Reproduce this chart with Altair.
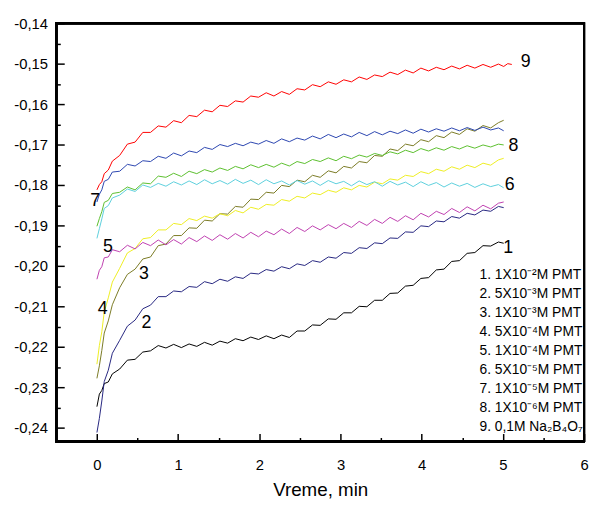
import altair as alt
import pandas as pd

# time grid (min)
T = [0, 0.03, 0.06, 0.09, 0.14, 0.19, 0.28, 0.375, 0.47, 0.565,
     0.66, 0.755, 0.85, 0.945, 1.04, 1.135, 1.23, 1.325, 1.42, 1.515,
     1.61, 1.705, 1.8, 1.895, 1.99, 2.085, 2.18, 2.275, 2.37, 2.465,
     2.56, 2.655, 2.75, 2.85, 2.945, 3.04, 3.135, 3.23, 3.325, 3.42,
     3.515, 3.61, 3.705, 3.8, 3.895, 3.99, 4.085, 4.18, 4.275, 4.37,
     4.465, 4.56, 4.655, 4.755, 4.85, 4.945, 5.01]
T9 = T + [5.06, 5.11]

C1 = [-0.2348, -0.2317, -0.2308, -0.2291, -0.2287, -0.2267, -0.2255, -0.2233, -0.2231, -0.2213,
      -0.2210, -0.2197, -0.2203, -0.2194, -0.2202, -0.2193, -0.2199, -0.2189, -0.2196, -0.2186,
      -0.2191, -0.2180, -0.2185, -0.2176, -0.2182, -0.2173, -0.2180, -0.2171, -0.2177, -0.2161,
      -0.2161, -0.2146, -0.2147, -0.2131, -0.2132, -0.2116, -0.2116, -0.2100, -0.2101, -0.2085,
      -0.2085, -0.2068, -0.2067, -0.2050, -0.2048, -0.2031, -0.2029, -0.2010, -0.2008, -0.1989,
      -0.1987, -0.1969, -0.1967, -0.1950, -0.1951, -0.1941, -0.1944]
C2 = [-0.2412, -0.2377, -0.2334, -0.2286, -0.2258, -0.2216, -0.2184, -0.2149, -0.2134, -0.2106,
      -0.2097, -0.2076, -0.2076, -0.2062, -0.2064, -0.2051, -0.2053, -0.2039, -0.2044, -0.2033,
      -0.2038, -0.2027, -0.2031, -0.2018, -0.2020, -0.2009, -0.2013, -0.2002, -0.2007, -0.1995,
      -0.1999, -0.1987, -0.1991, -0.1978, -0.1981, -0.1967, -0.1969, -0.1955, -0.1957, -0.1943,
      -0.1945, -0.1931, -0.1932, -0.1916, -0.1917, -0.1901, -0.1903, -0.1889, -0.1891, -0.1878,
      -0.1882, -0.1870, -0.1874, -0.1862, -0.1865, -0.1853, -0.1856]
C3 = [-0.2278, -0.2247, -0.2209, -0.2166, -0.2136, -0.2096, -0.2054, -0.2021, -0.2008, -0.1983,
      -0.1978, -0.1950, -0.1946, -0.1925, -0.1925, -0.1906, -0.1907, -0.1887, -0.1889, -0.1871,
      -0.1872, -0.1853, -0.1855, -0.1835, -0.1836, -0.1818, -0.1820, -0.1801, -0.1804, -0.1788,
      -0.1792, -0.1776, -0.1781, -0.1765, -0.1770, -0.1754, -0.1758, -0.1742, -0.1745, -0.1727,
      -0.1729, -0.1711, -0.1715, -0.1699, -0.1703, -0.1688, -0.1693, -0.1678, -0.1683, -0.1669,
      -0.1675, -0.1661, -0.1667, -0.1653, -0.1659, -0.1646, -0.1640]
C4 = [-0.2243, -0.2197, -0.2163, -0.2114, -0.2079, -0.2040, -0.2006, -0.1968, -0.1957, -0.1933,
      -0.1930, -0.1911, -0.1911, -0.1895, -0.1898, -0.1883, -0.1888, -0.1877, -0.1882, -0.1871,
      -0.1876, -0.1863, -0.1869, -0.1855, -0.1860, -0.1848, -0.1850, -0.1836, -0.1840, -0.1828,
      -0.1832, -0.1820, -0.1824, -0.1813, -0.1818, -0.1807, -0.1812, -0.1801, -0.1805, -0.1793,
      -0.1797, -0.1785, -0.1788, -0.1776, -0.1779, -0.1767, -0.1772, -0.1761, -0.1766, -0.1755,
      -0.1761, -0.1751, -0.1757, -0.1746, -0.1751, -0.1738, -0.1734]
C5 = [-0.2033, -0.2011, -0.2002, -0.1980, -0.1978, -0.1960, -0.1965, -0.1949, -0.1958, -0.1942,
      -0.1950, -0.1936, -0.1948, -0.1935, -0.1946, -0.1930, -0.1940, -0.1926, -0.1937, -0.1923,
      -0.1934, -0.1920, -0.1931, -0.1917, -0.1928, -0.1914, -0.1923, -0.1909, -0.1920, -0.1905,
      -0.1915, -0.1901, -0.1911, -0.1898, -0.1908, -0.1895, -0.1905, -0.1890, -0.1900, -0.1885,
      -0.1895, -0.1880, -0.1890, -0.1876, -0.1886, -0.1870, -0.1879, -0.1865, -0.1873, -0.1858,
      -0.1868, -0.1854, -0.1864, -0.1850, -0.1859, -0.1845, -0.1842]
C6 = [-0.1932, -0.1908, -0.1884, -0.1858, -0.1851, -0.1832, -0.1825, -0.1810, -0.1816, -0.1800,
      -0.1806, -0.1796, -0.1803, -0.1792, -0.1800, -0.1790, -0.1799, -0.1787, -0.1797, -0.1789,
      -0.1798, -0.1786, -0.1796, -0.1788, -0.1799, -0.1787, -0.1797, -0.1790, -0.1800, -0.1789,
      -0.1798, -0.1790, -0.1801, -0.1789, -0.1797, -0.1791, -0.1802, -0.1790, -0.1799, -0.1792,
      -0.1803, -0.1791, -0.1800, -0.1793, -0.1804, -0.1792, -0.1801, -0.1794, -0.1805, -0.1795,
      -0.1803, -0.1796, -0.1806, -0.1797, -0.1804, -0.1799, -0.1807]
C7 = [-0.1842, -0.1823, -0.1812, -0.1791, -0.1786, -0.1768, -0.1766, -0.1749, -0.1753, -0.1740,
      -0.1742, -0.1729, -0.1734, -0.1721, -0.1728, -0.1716, -0.1720, -0.1707, -0.1712, -0.1700,
      -0.1705, -0.1697, -0.1703, -0.1694, -0.1699, -0.1690, -0.1697, -0.1686, -0.1693, -0.1684,
      -0.1689, -0.1679, -0.1686, -0.1675, -0.1683, -0.1674, -0.1681, -0.1670, -0.1678, -0.1668,
      -0.1676, -0.1667, -0.1673, -0.1664, -0.1672, -0.1662, -0.1669, -0.1661, -0.1667, -0.1659,
      -0.1666, -0.1658, -0.1665, -0.1657, -0.1664, -0.1659, -0.1666]
C8 = [-0.1902, -0.1883, -0.1866, -0.1843, -0.1838, -0.1821, -0.1818, -0.1805, -0.1812, -0.1795,
      -0.1797, -0.1778, -0.1781, -0.1771, -0.1779, -0.1766, -0.1772, -0.1762, -0.1768, -0.1758,
      -0.1764, -0.1754, -0.1760, -0.1750, -0.1757, -0.1749, -0.1756, -0.1746, -0.1753, -0.1742,
      -0.1747, -0.1737, -0.1742, -0.1733, -0.1740, -0.1729, -0.1735, -0.1726, -0.1731, -0.1722,
      -0.1727, -0.1718, -0.1723, -0.1714, -0.1720, -0.1710, -0.1716, -0.1708, -0.1714, -0.1705,
      -0.1711, -0.1703, -0.1709, -0.1701, -0.1706, -0.1699, -0.1701]
C9 = [-0.1812, -0.1799, -0.1792, -0.1772, -0.1763, -0.1741, -0.1727, -0.1699, -0.1694, -0.1670,
      -0.1670, -0.1654, -0.1657, -0.1641, -0.1646, -0.1628, -0.1631, -0.1615, -0.1619, -0.1603,
      -0.1606, -0.1592, -0.1595, -0.1580, -0.1583, -0.1572, -0.1580, -0.1569, -0.1576, -0.1562,
      -0.1565, -0.1552, -0.1557, -0.1545, -0.1551, -0.1540, -0.1545, -0.1533, -0.1539, -0.1528,
      -0.1532, -0.1521, -0.1527, -0.1516, -0.1523, -0.1511, -0.1518, -0.1509, -0.1515, -0.1506,
      -0.1513, -0.1504, -0.1511, -0.1502, -0.1509, -0.1501, -0.1507, -0.1500, -0.1502]

LEGEND = ["1. 1X10\u207b\u00b2M PMT", "2. 5X10\u207b\u00b3M PMT", "3. 1X10\u207b\u00b3M PMT",
          "4. 5X10\u207b\u2074M PMT", "5. 1X10\u207b\u2074M PMT", "6. 5X10\u207b\u2075M PMT",
          "7. 1X10\u207b\u2075M PMT", "8. 1X10\u207b\u2076M PMT", "9. 0,1M Na\u2082B\u2084O\u2087"]
COLORS = ["#000000", "#262680", "#7A7A24", "#EEEE22", "#BF40B0",
          "#5CCFDC", "#2B45B0", "#5BBF2E", "#FF0000"]
SERIES = [C1, C2, C3, C4, C5, C6, C7, C8, C9]
TIMES = [T, T, T, T, T, T, T, T, T9]

# curve number labels
NUM = ["9", "8", "6", "1", "7", "5", "3", "4", "2"]
NUM_T = [5.28, 5.13, 5.085, 5.065, -0.02, 0.135, 0.58, 0.07, 0.61]
NUM_V = [-0.1496, -0.1705, -0.1801, -0.1955, -0.1840, -0.1954, -0.2020, -0.2106, -0.2141]

X_MAJOR = [0, 1, 2, 3, 4, 5, 6]
X_MINOR = [0.5, 1.5, 2.5, 3.5, 4.5, 5.5]
Y_MAJOR = [-0.24, -0.23, -0.22, -0.21, -0.20, -0.19, -0.18, -0.17, -0.16, -0.15, -0.14]
Y_MINOR = [-0.235, -0.225, -0.215, -0.205, -0.195, -0.185, -0.175, -0.165, -0.155, -0.145]

rows = []
for name, ts, vs in zip(LEGEND, TIMES, SERIES):
    assert len(ts) == len(vs), (name, len(ts), len(vs))
    for t, v in zip(ts, vs):
        rows.append({"t": t, "v": v, "s": name})
df = pd.DataFrame(rows)
dnum = pd.DataFrame({"t": NUM_T, "v": NUM_V, "n": NUM})

W, H = 535, 424
FONT = "Liberation Sans"
xs = alt.Scale(domain=[-0.5, 6], nice=False, zero=False)
ys = alt.Scale(domain=[-0.2434, -0.14], nice=False, zero=False)

lines = alt.Chart(df).mark_line(strokeWidth=1).encode(
    x=alt.X("t:Q", scale=xs, axis=alt.Axis(
        orient="bottom", values=X_MAJOR, ticks=False, domain=False, grid=False,
        labelFlush=False, labelOverlap=False,
        labelFontSize=15, labelPadding=16, labelColor="black", labelFont=FONT,
        title="Vreme, min", titleFontSize=19, titleFontWeight="normal",
        titleFont=FONT, titleColor="black", titlePadding=9)),
    y=alt.Y("v:Q", scale=ys, axis=alt.Axis(
        orient="left", values=Y_MAJOR, ticks=False, domain=False, grid=False,
        labelFlush=False, labelOverlap=False,
        labelFontSize=15, labelPadding=9, labelColor="black", labelFont=FONT,
        labelExpr="'-' + replace(format(abs(datum.value), '.2f'), '.', ',')",
        title=None)),
    color=alt.Color("s:N", scale=alt.Scale(domain=LEGEND, range=COLORS),
                    legend=alt.Legend(title=None, orient="none", legendX=415, legendY=248,
                                      symbolSize=0, symbolOpacity=0, symbolStrokeWidth=0,
                                      labelOffset=0, labelFontSize=14, labelFont=FONT,
                                      labelColor="black", rowPadding=5.3, padding=0,
                                      labelLimit=300)),
    order=alt.Order("t:Q"),
)

nums = alt.Chart(dnum).mark_text(fontSize=18, font=FONT, color="black",
                                  align="center", baseline="middle").encode(
    x=alt.X("t:Q", scale=xs, axis=alt.Axis(
        orient="top", offset=-H, values=X_MAJOR, tickSize=8, tickWidth=1.5,
        tickColor="black", labels=False, domain=False, grid=False, title=None)),
    y=alt.Y("v:Q", scale=ys, axis=alt.Axis(
        orient="right", offset=-W, values=Y_MAJOR, tickSize=8, tickWidth=1.5,
        tickColor="black", labels=False, domain=False, grid=False, title=None)),
    text="n:N",
)

minor = alt.Chart(dnum).mark_point(opacity=0).encode(
    x=alt.X("t:Q", scale=xs, axis=alt.Axis(
        orient="top", offset=-H, values=X_MINOR, tickSize=4, tickWidth=1.5,
        tickColor="black", labels=False, domain=False, grid=False, title=None)),
    y=alt.Y("v:Q", scale=ys, axis=alt.Axis(
        orient="right", offset=-W, values=Y_MINOR, tickSize=4, tickWidth=1.5,
        tickColor="black", labels=False, domain=False, grid=False, title=None)),
)

# plot frame
frame = alt.Chart(dnum).mark_rect(
    fillOpacity=0, stroke="#000000", strokeWidth=2, strokeOpacity=1
).encode(
    x=alt.value(0), x2=alt.value(W), y=alt.value(0), y2=alt.value(H),
)

chart = alt.layer(lines, nums, minor, frame).resolve_axis(
    x="independent", y="independent"
).properties(
    width=W, height=H,
    padding={"left": 5, "top": 5, "right": 0, "bottom": 0},
    background="white",
).configure(
    font=FONT,
)

chart.save("out.html", embed_options={"renderer": "svg", "actions": False})
